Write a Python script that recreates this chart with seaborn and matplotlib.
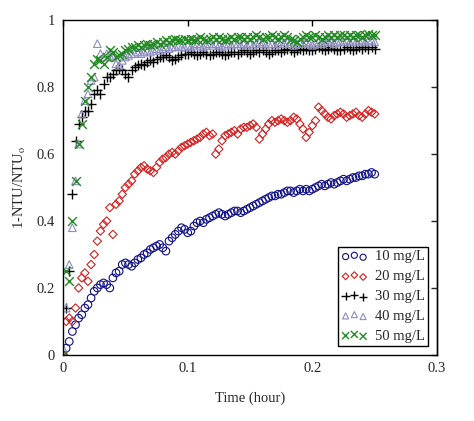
import numpy as np
import pandas as pd
import matplotlib
matplotlib.use("Agg")
import matplotlib.pyplot as plt
import seaborn as sns

# sampling grid: 0 .. 0.25 h, every 0.0025 h (101 samples)
time_h = np.linspace(0, 0.25, 101)

c10 = [0.00, 0.02, 0.04, 0.07, 0.09, 0.11, 0.12, 0.14, 0.15, 0.17,
       0.19, 0.20, 0.21, 0.215, 0.21, 0.20, 0.23, 0.245, 0.25, 0.27,
       0.275, 0.27, 0.265, 0.275, 0.285, 0.29, 0.30, 0.305, 0.315, 0.32,
       0.325, 0.33, 0.32, 0.31, 0.34, 0.35, 0.36, 0.37, 0.38, 0.375,
       0.365, 0.37, 0.385, 0.395, 0.40, 0.395, 0.405, 0.41, 0.415, 0.42,
       0.425, 0.42, 0.415, 0.42, 0.425, 0.43, 0.43, 0.425, 0.43, 0.435,
       0.44, 0.445, 0.45, 0.455, 0.46, 0.465, 0.47, 0.475, 0.475, 0.48,
       0.48, 0.485, 0.49, 0.49, 0.485, 0.49, 0.495, 0.49, 0.495, 0.49,
       0.495, 0.50, 0.505, 0.51, 0.505, 0.51, 0.515, 0.51, 0.515, 0.52,
       0.525, 0.52, 0.525, 0.53, 0.53, 0.535, 0.535, 0.54, 0.54, 0.545,
       0.54]

c20 = [0.00, 0.10, 0.11, 0.10, 0.14, 0.20, 0.23, 0.245, 0.22, 0.27,
       0.30, 0.34, 0.37, 0.39, 0.40, 0.44, 0.36, 0.45, 0.46, 0.48,
       0.50, 0.51, 0.52, 0.54, 0.55, 0.56, 0.565, 0.555, 0.55, 0.545,
       0.56, 0.575, 0.585, 0.59, 0.60, 0.605, 0.60, 0.61, 0.62, 0.625,
       0.63, 0.635, 0.64, 0.645, 0.65, 0.66, 0.665, 0.655, 0.66, 0.60,
       0.615, 0.64, 0.655, 0.66, 0.665, 0.67, 0.66, 0.675, 0.68, 0.68,
       0.685, 0.69, 0.68, 0.645, 0.66, 0.675, 0.69, 0.70, 0.695, 0.70,
       0.705, 0.70, 0.695, 0.70, 0.71, 0.705, 0.69, 0.675, 0.65, 0.665,
       0.685, 0.70, 0.74, 0.73, 0.72, 0.71, 0.705, 0.715, 0.72, 0.725,
       0.72, 0.71, 0.715, 0.72, 0.725, 0.715, 0.71, 0.72, 0.73, 0.725,
       0.72]

c30 = [0.00, 0.14, 0.25, 0.48, 0.64, 0.69, 0.71, 0.73, 0.73, 0.75,
       0.78, 0.79, 0.78, 0.81, 0.83, 0.83, 0.84, 0.85, 0.855, 0.85,
       0.84, 0.83, 0.85, 0.86, 0.865, 0.87, 0.865, 0.875, 0.88, 0.875,
       0.885, 0.89, 0.89, 0.895, 0.89, 0.88, 0.885, 0.89, 0.895, 0.90,
       0.90, 0.905, 0.90, 0.895, 0.90, 0.905, 0.90, 0.895, 0.90, 0.905,
       0.905, 0.90, 0.895, 0.90, 0.905, 0.905, 0.90, 0.905, 0.91, 0.905,
       0.90, 0.905, 0.91, 0.905, 0.91, 0.905, 0.90, 0.905, 0.91, 0.91,
       0.905, 0.91, 0.915, 0.91, 0.905, 0.91, 0.915, 0.91, 0.915, 0.91,
       0.91, 0.915, 0.92, 0.915, 0.91, 0.915, 0.92, 0.915, 0.91, 0.91,
       0.915, 0.92, 0.915, 0.91, 0.915, 0.92, 0.915, 0.92, 0.915, 0.92,
       0.915]

c40 = [0.02, 0.14, 0.27, 0.38, 0.52, 0.63, 0.72, 0.76, 0.78, 0.82,
       0.83, 0.93, 0.90, 0.89, 0.90, 0.895, 0.89, 0.87, 0.865, 0.88,
       0.89, 0.895, 0.90, 0.90, 0.905, 0.90, 0.905, 0.91, 0.905, 0.91,
       0.915, 0.91, 0.915, 0.92, 0.915, 0.92, 0.92, 0.925, 0.92, 0.92,
       0.925, 0.92, 0.925, 0.93, 0.925, 0.92, 0.925, 0.93, 0.925, 0.93,
       0.925, 0.92, 0.925, 0.93, 0.925, 0.93, 0.93, 0.925, 0.93, 0.925,
       0.93, 0.925, 0.93, 0.935, 0.93, 0.925, 0.93, 0.93, 0.925, 0.93,
       0.935, 0.93, 0.935, 0.93, 0.925, 0.93, 0.935, 0.93, 0.935, 0.93,
       0.925, 0.93, 0.935, 0.93, 0.935, 0.94, 0.935, 0.93, 0.935, 0.94,
       0.935, 0.94, 0.935, 0.94, 0.935, 0.94, 0.94, 0.935, 0.94, 0.94,
       0.935]

c50 = [0.00, 0.25, 0.22, 0.40, 0.52, 0.63, 0.69, 0.76, 0.80, 0.83,
       0.87, 0.885, 0.88, 0.87, 0.89, 0.91, 0.905, 0.89, 0.895, 0.90,
       0.91, 0.915, 0.92, 0.92, 0.925, 0.92, 0.925, 0.93, 0.925, 0.93,
       0.935, 0.93, 0.935, 0.94, 0.935, 0.94, 0.945, 0.94, 0.94, 0.945,
       0.94, 0.945, 0.94, 0.945, 0.95, 0.945, 0.94, 0.945, 0.95, 0.945,
       0.95, 0.945, 0.94, 0.945, 0.95, 0.945, 0.95, 0.95, 0.945, 0.95,
       0.945, 0.95, 0.955, 0.95, 0.945, 0.95, 0.95, 0.955, 0.95, 0.945,
       0.95, 0.955, 0.95, 0.945, 0.94, 0.935, 0.945, 0.95, 0.955, 0.95,
       0.95, 0.955, 0.95, 0.945, 0.95, 0.955, 0.95, 0.955, 0.95, 0.955,
       0.955, 0.95, 0.955, 0.95, 0.955, 0.955, 0.95, 0.955, 0.96, 0.955,
       0.955]

labels = ["10 mg/L", "20 mg/L", "30 mg/L", "40 mg/L", "50 mg/L"]
series = [c10, c20, c30, c40, c50]
markers = ["o", "D", "+", "^", "x"]
colors = ["#101088", "#d42020", "#000000", "#8c8cc0", "#228b22"]
sizes = [30, 18, 55, 30, 40]

sns.set_style("white")
plt.rcParams["font.family"] = ["Liberation Serif", "DejaVu Serif"]
plt.rcParams["mathtext.fontset"] = "stix"

fig = plt.figure(figsize=(4.74, 4.21), dpi=100)
ax = fig.add_axes([0.133, 0.157, 0.789, 0.795])

for lab, vals, m, c, s in zip(labels, series, markers, colors, sizes):
    df = pd.DataFrame({"t": time_h, "v": vals})
    if m in ("+", "x"):
        # line markers: colour them directly, no face to clear
        sns.scatterplot(data=df, x="t", y="v", marker=m, s=s, color=c,
                        linewidth=1.0, label=lab, ax=ax, legend=False)
    else:
        sns.scatterplot(data=df, x="t", y="v", marker=m, s=s, color=c,
                        facecolor="none", edgecolor=c, linewidth=0.8,
                        label=lab, ax=ax, legend=False)

ax.set_xlim(0, 0.3)
ax.set_ylim(0, 1)
ax.set_xticks([0, 0.1, 0.2, 0.3])
ax.set_xticklabels(["0", "0.1", "0.2", "0.3"])
ax.set_yticks([0, 0.2, 0.4, 0.6, 0.8, 1])
ax.set_yticklabels(["0", "0.2", "0.4", "0.6", "0.8", "1"])

for sp in ax.spines.values():
    sp.set_color("black")
    sp.set_linewidth(1.0)

ax.tick_params(axis="x", direction="in", top=True, length=4, width=1,
               pad=5, labelsize=10.5, color="black")
ax.tick_params(axis="y", direction="out", length=5, width=1, pad=1,
               labelsize=10.5, color="black")
sec = ax.secondary_yaxis("right")
sec.set_yticks([0, 0.2, 0.4, 0.6, 0.8, 1])
sec.tick_params(direction="in", length=4, width=1, labelright=False)
sec.spines["right"].set_linewidth(1.0)

ax.set_xlabel("Time (hour)", fontsize=10.5, labelpad=12)
ax.set_ylabel(r"1-NTU/NTU$_\mathrm{o}$", fontsize=10.5, labelpad=6)

leg = ax.legend(loc="lower right", scatterpoints=3, fontsize=10.5,
                frameon=True, fancybox=False, framealpha=1,
                edgecolor="black", borderpad=0.25, labelspacing=0.45,
                handlelength=1.8, handletextpad=0.5, borderaxespad=0.6,
                markerscale=0.8)
leg.get_frame().set_linewidth(1.0)

fig.savefig("out.png", dpi=100)
